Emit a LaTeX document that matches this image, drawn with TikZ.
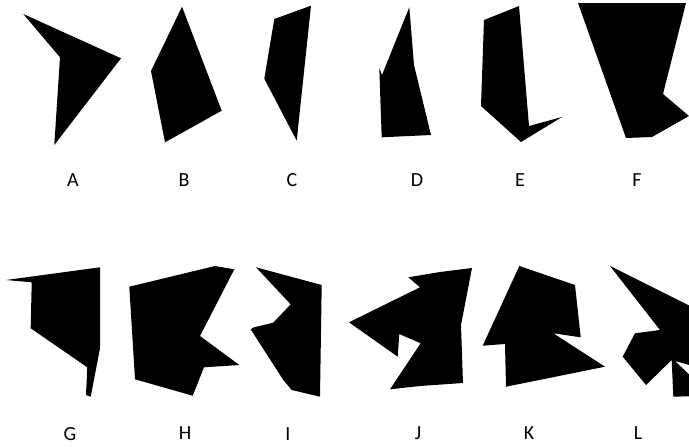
\documentclass[tikz,border=0pt]{standalone}
\usepackage{fontspec}
\setmainfont{Carlito}
\begin{document}
\begin{tikzpicture}[x=1pt,y=-1pt,
  poly/.style={fill=black,draw=none},
  lbl/.style={font=\fontsize{20}{24}\selectfont,inner sep=0pt,anchor=center}]
\useasboundingbox (0,0) rectangle (689,447);
\clip (0,0) rectangle (689,447);
% A
\fill[poly] (23.3,14) -- (121,58.3) -- (54.3,145) -- (60,57.3) -- cycle;
% B
\fill[poly] (182,6.7) -- (221.7,110.7) -- (165,142.3) -- (151,71) -- cycle;
% C
\fill[poly] (311,5.7) -- (274.3,19) -- (264.3,78.7) -- (296.7,140.7) -- cycle;
% D
\fill[poly] (409.3,7.3) -- (414,65) -- (431,135) -- (381.7,137.3) -- (379.3,68) -- (382,75) -- cycle;
% E
\fill[poly] (484,20) -- (519,6) -- (529,126) -- (562,117) -- (521,142) -- (481,106) -- cycle;
% F
\fill[poly] (578,3) -- (686,3) -- (663,94) -- (689,116) -- (652,137) -- (626,138) -- cycle;
% G
\fill[poly] (6,280) -- (100,267.3) -- (100,348.3) -- (90.7,396.7) -- (86,395) -- (87.3,367.3) -- (30.7,328.3) -- (31.7,282.3) -- cycle;
% H
\fill[poly] (129.3,286.7) -- (215,266) -- (234.3,269.3) -- (200,336) -- (239.3,365) -- (204,367.3) -- (192.7,395.7) -- (135,379.3) -- cycle;
% I
\fill[poly] (256,267.3) -- (321.7,285) -- (320,396.7) -- (291.7,390) -- (283.3,380) -- (250.7,329.3) -- (254,327.3) -- (273.3,322.7) -- (290.7,304.3) -- cycle;
% J
\fill[poly] (408.3,277.3) -- (440,272) -- (472,268) -- (461,325) -- (463,383) -- (420,386) -- (390,389.3) -- (420.7,343.3) -- (399.3,334) -- (397.7,356.7) -- (349,322.3) -- (420,287.3) -- cycle;
% K
\fill[poly] (519.3,266) -- (575,285) -- (580.7,337.3) -- (553.3,333.3) -- (605,366.7) -- (506,386.7) -- (505,344) -- (482.7,345.7) -- cycle;
% L
\fill[poly] (610,266) -- (700,311) -- (700,368) -- (675,361) -- (700,385) -- (700,396) -- (673.3,396.7) -- (671.7,360) -- (646,385) -- (622.7,356.7) -- (635,333.3) -- (660,330) -- cycle;
% labels
\node[lbl] (lA) at (73,180) {A};
\node[lbl] (lB) at (184,180) {B};
\node[lbl] (lC) at (292,180) {C};
\node[lbl] (lD) at (417,180) {D};
\node[lbl] (lE) at (520,180) {E};
\node[lbl] (lF) at (637,180) {F};
\node[lbl] (lG) at (70,434) {G};
\node[lbl] (lH) at (185,433) {H};
\node[lbl] (lI) at (288,434) {I};
\node[lbl] (lJ) at (418,433) {J};
\node[lbl] (lK) at (529,433) {K};
\node[lbl] (lL) at (638,433) {L};
\end{tikzpicture}
\end{document}
